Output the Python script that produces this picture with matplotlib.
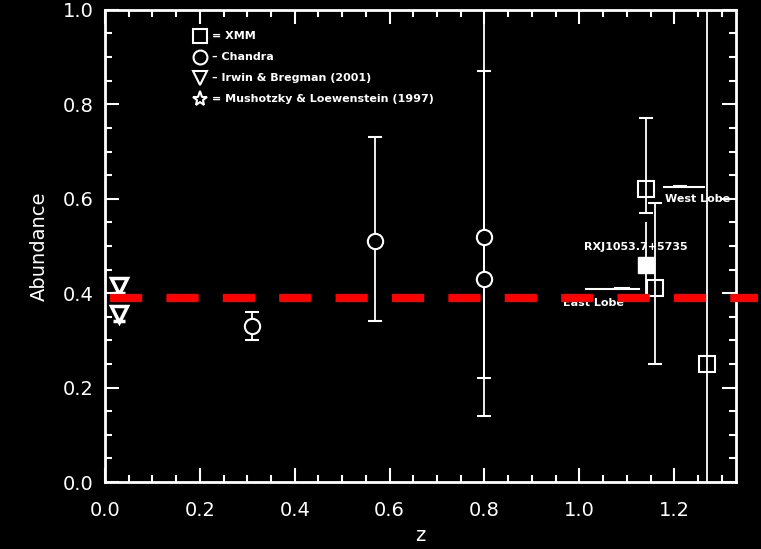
"""
Abundance vs redshift, IDL-style black plot.
"""

import numpy as np
import matplotlib.pyplot as plt
from matplotlib.ticker import MultipleLocator

# XMM points (open squares)
xmm_z = [1.14, 1.16, 1.27]
xmm_ab = [0.62, 0.41, 0.25]
xmm_lo = [0.57, 0.25, -0.10]
xmm_hi = [0.77, 0.59, 1.10]

# RXJ1053.7+5735 (filled square)
rxj_z = [1.14]
rxj_ab = [0.46]
rxj_lo = [0.39]
rxj_hi = [0.55]

# Chandra points (open circles)
chandra_z = [0.31, 0.57, 0.80, 0.80]
chandra_ab = [0.33, 0.51, 0.52, 0.43]
chandra_lo = [0.30, 0.34, 0.22, 0.14]
chandra_hi = [0.36, 0.73, 0.87, 1.10]

# Irwin & Bregman (2001) (down triangles)
irwin_z = [0.03, 0.03]
irwin_ab = [0.415, 0.355]
irwin_lo = [0.40, 0.34]
irwin_hi = [0.43, 0.37]

mean_ab = 0.39
mean_z = [0.0105, 1.377]

legend_lines = [
    ("s", "= XMM"),
    ("o", "\u2013 Chandra"),
    ("v", "\u2013 Irwin & Bregman (2001)"),
    ("*", "= Mushotzky & Loewenstein (1997)"),
]

W = "white"

fig = plt.figure(figsize=(7.61, 5.49), dpi=100, facecolor="black")
ax = fig.add_axes([0.138, 0.122, 0.829, 0.860], facecolor="black")


def errs(v, lo, hi):
    v = np.asarray(v)
    return [v - np.asarray(lo), np.asarray(hi) - v]


# mean abundance, runs past the right axis like the original
ax.plot(mean_z, [mean_ab, mean_ab], color="red", lw=5.8, dashes=(4, 3),
        dash_capstyle="butt", zorder=5, clip_on=False)

ax.errorbar(chandra_z, chandra_ab, yerr=errs(chandra_ab, chandra_lo, chandra_hi),
            fmt="o", ms=11, mfc="black", mec=W, mew=1.5, ecolor=W, elinewidth=1.3,
            capsize=5, capthick=1.3, zorder=3)
ax.errorbar(xmm_z, xmm_ab, yerr=errs(xmm_ab, xmm_lo, xmm_hi),
            fmt="s", ms=11, mfc="none", mec=W, mew=1.5, ecolor=W, elinewidth=1.3,
            capsize=5, capthick=1.3, zorder=3)
ax.errorbar(rxj_z, rxj_ab, yerr=errs(rxj_ab, rxj_lo, rxj_hi),
            fmt="s", ms=11, mfc=W, mec=W, ecolor=W, elinewidth=1.3,
            capsize=0, zorder=3)
ax.errorbar(irwin_z, irwin_ab, yerr=errs(irwin_ab, irwin_lo, irwin_hi),
            fmt="v", ms=11, mfc="black", mec=W, mew=2.5, ecolor=W, elinewidth=1.3,
            capsize=4, capthick=1.3, zorder=3)

# annotations near the cluster
txt = dict(color=W, fontsize=8, fontweight="bold")
ax.plot([1.178, 1.263], [0.624, 0.624], color=W, lw=1.5)
ax.plot([1.20, 1.225], [0.628, 0.628], color=W, lw=1.5)
ax.text(1.18, 0.600, "West Lobe", ha="left", va="center", **txt)
ax.text(1.01, 0.497, "RXJ1053.7+5735", ha="left", va="center", **txt)
ax.plot([1.015, 1.125], [0.408, 0.408], color=W, lw=1.5)
ax.plot([1.075, 1.105], [0.412, 0.412], color=W, lw=1.5)
ax.text(0.965, 0.380, "East Lobe", ha="left", va="center", zorder=2, **txt)

# legend drawn by hand, as in the original
for i, (mk, label) in enumerate(legend_lines):
    y = 0.944 - i * 0.044
    ax.plot([0.20], [y], marker=mk, ms=10 if mk != "*" else 11, mfc="none",
            mec=W, mew=1.5, ls="none")
    ax.text(0.225, y, label, color=W, fontsize=8, fontweight="bold", va="center")

ax.set_xlim(0, 1.33)
ax.set_ylim(0, 1.0)
ax.xaxis.set_major_locator(MultipleLocator(0.2))
ax.xaxis.set_minor_locator(MultipleLocator(0.05))
ax.yaxis.set_major_locator(MultipleLocator(0.2))
ax.yaxis.set_minor_locator(MultipleLocator(0.05))
ax.tick_params(which="both", direction="in", top=True, right=True, colors=W,
               labelsize=14, width=1.5)
ax.tick_params(axis="x", pad=14)
ax.tick_params(axis="y", pad=8)
ax.tick_params(which="major", length=10)
ax.tick_params(which="minor", length=5)
ax.xaxis.set_major_formatter(plt.FormatStrFormatter("%.1f"))
ax.yaxis.set_major_formatter(plt.FormatStrFormatter("%.1f"))
for s in ax.spines.values():
    s.set_color(W)
    s.set_linewidth(2)

ax.set_xlabel("z", color=W, fontsize=14, labelpad=4)
ax.set_ylabel("Abundance", color=W, fontsize=14, labelpad=10)

fig.savefig("out.png", dpi=100, facecolor="black")
